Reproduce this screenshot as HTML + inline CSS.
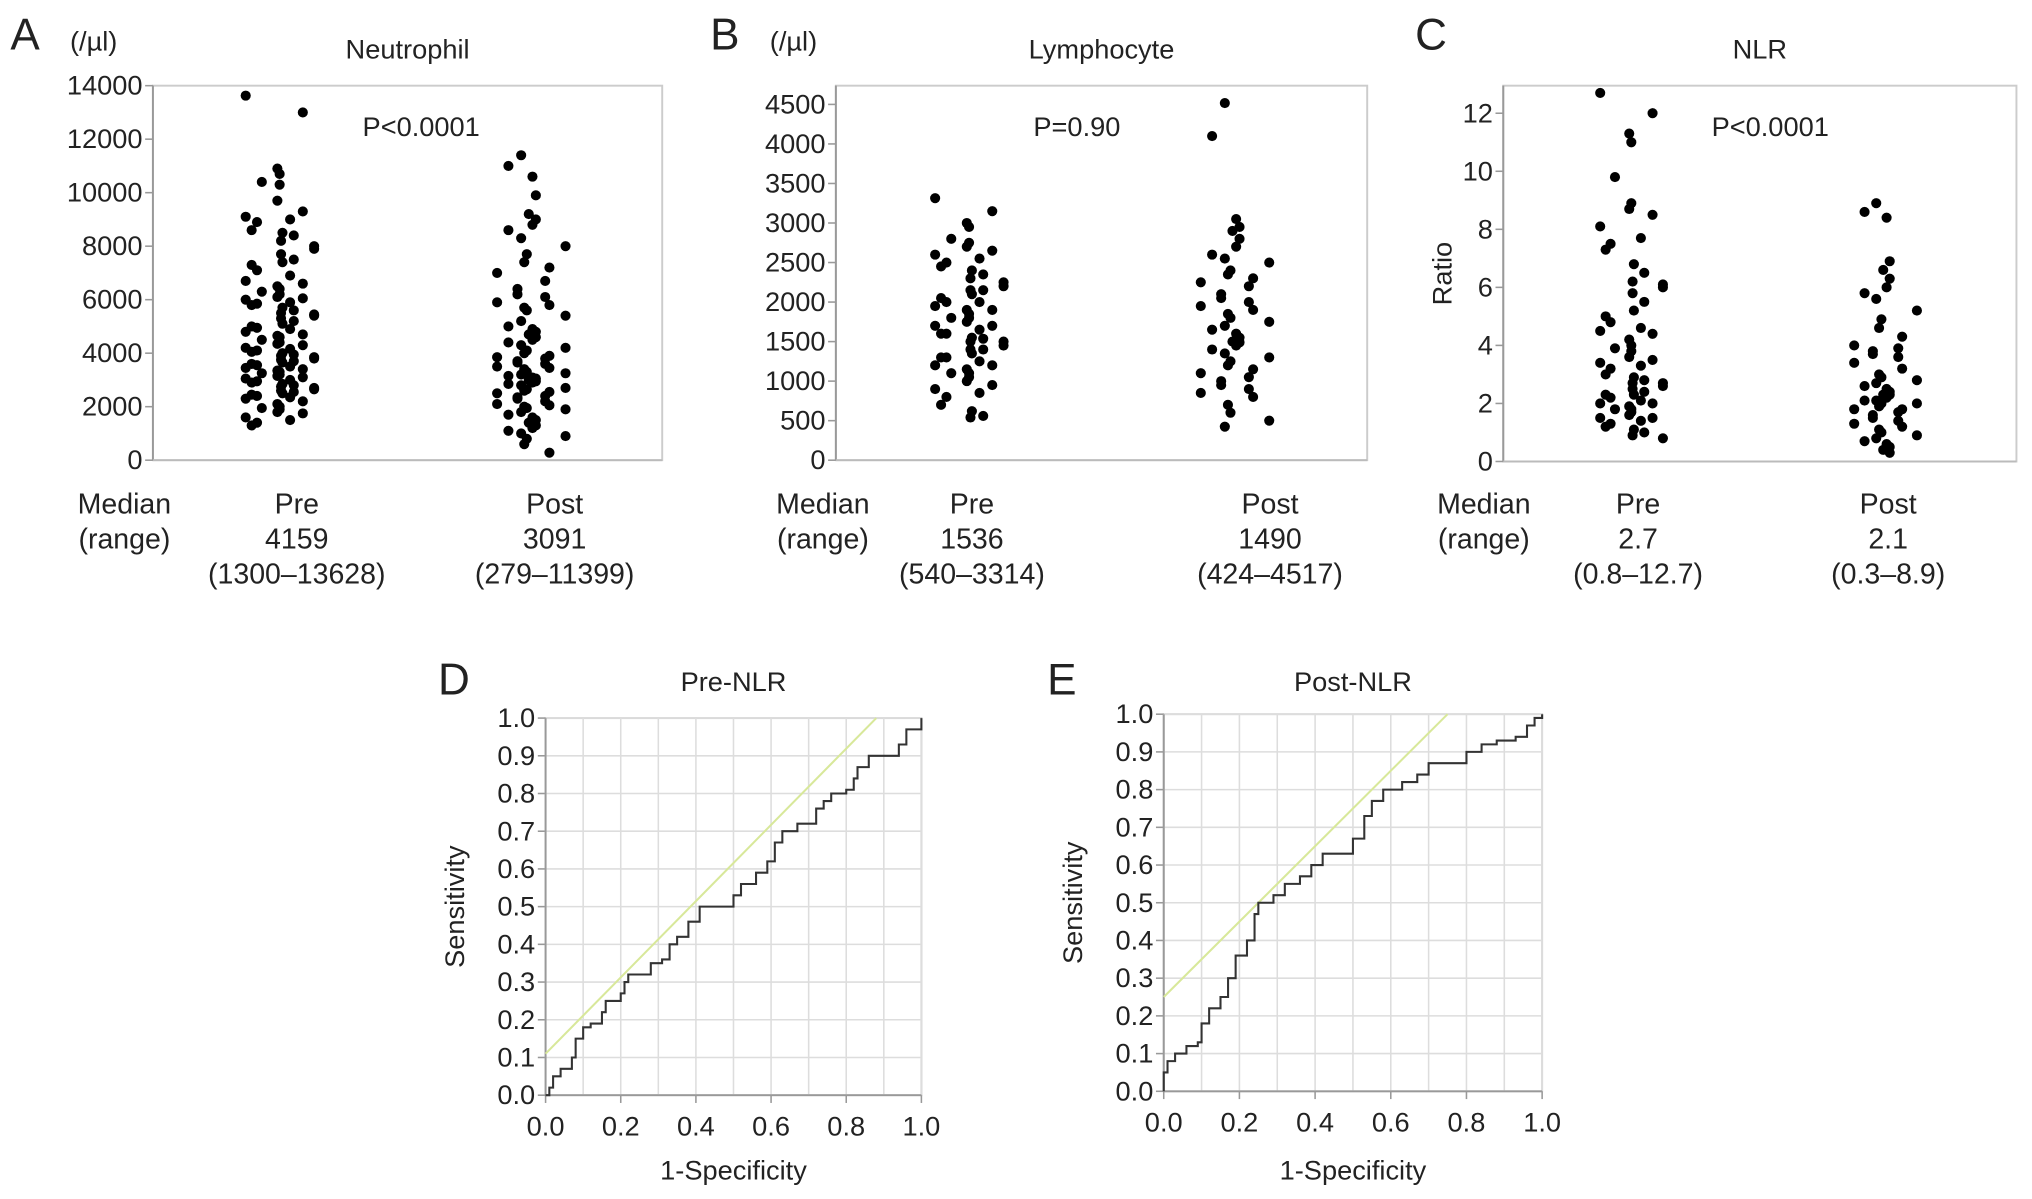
<!DOCTYPE html>
<html><head><meta charset="utf-8"><style>
html,body{margin:0;padding:0;background:#fff}
svg{display:block}
text{font-family:"Liberation Sans",Arial,sans-serif;fill:#222}
</style></head><body>
<svg id="fig" width="2032" height="1199" viewBox="0 0 1568 925"></svg>
<script>
const aPre=[13628,13000,10900,10700,10400,10300,9700,9300,9100,9000,8900,8600,8500,8400,8200,8000,7900,7700,7500,7400,7300,7100,6900,6700,6600,6500,6400,6300,6200,6100,6050,6000,5900,5850,5800,5700,5600,5500,5450,5400,5300,5200,5100,5000,4950,4900,4800,4700,4650,4600,4500,4400,4350,4300,4200,4159,4100,4050,4000,3950,3900,3850,3800,3750,3700,3650,3600,3550,3500,3450,3400,3350,3300,3250,3200,3150,3100,3050,3000,2950,2900,2850,2800,2750,2700,2650,2600,2550,2500,2450,2400,2350,2300,2200,2100,2000,1950,1900,1800,1750,1600,1500,1400,1300];
const aPost=[11399,11000,10600,9900,9200,9000,8800,8600,8300,8000,7700,7400,7200,7000,6700,6400,6200,6100,5900,5800,5700,5600,5400,5200,5000,4900,4800,4700,4600,4500,4400,4300,4200,4100,4000,3900,3850,3800,3700,3650,3600,3500,3450,3400,3300,3250,3200,3150,3091,3050,3000,2950,2900,2850,2800,2700,2650,2600,2550,2500,2400,2350,2300,2200,2100,2050,2000,1950,1900,1800,1700,1600,1500,1400,1300,1200,1100,1000,900,800,600,279];
const bPre=[3314,3150,3000,2950,2800,2750,2700,2650,2600,2550,2500,2450,2400,2350,2300,2250,2200,2150,2150,2100,2050,2000,2000,1950,1900,1900,1850,1800,1800,1750,1700,1700,1650,1600,1600,1550,1536,1500,1500,1450,1400,1400,1350,1300,1300,1250,1200,1200,1150,1100,1100,1050,1000,950,900,850,800,700,620,560,540];
const bPost=[4517,4100,3050,2950,2900,2800,2700,2600,2550,2500,2400,2350,2300,2250,2200,2100,2050,2000,1950,1900,1850,1800,1750,1700,1650,1600,1550,1500,1490,1450,1400,1350,1300,1250,1200,1150,1100,1050,1000,950,900,850,800,700,600,500,424];
const cPre=[12.7,12.0,11.3,11.0,9.8,8.9,8.7,8.5,8.1,7.7,7.5,7.3,6.8,6.5,6.2,6.1,6.0,5.8,5.5,5.2,5.0,4.8,4.6,4.5,4.4,4.2,4.0,3.9,3.8,3.6,3.5,3.4,3.3,3.2,3.0,2.9,2.8,2.7,2.7,2.6,2.5,2.4,2.3,2.3,2.2,2.1,2.0,2.0,1.9,1.8,1.8,1.7,1.6,1.5,1.5,1.4,1.3,1.2,1.1,1.0,0.9,0.8];
const cPost=[8.9,8.6,8.4,6.9,6.6,6.3,6.0,5.8,5.6,5.2,4.9,4.6,4.3,4.0,3.9,3.8,3.7,3.6,3.4,3.2,3.0,2.9,2.8,2.7,2.6,2.5,2.4,2.3,2.3,2.2,2.1,2.1,2.0,2.0,1.9,1.8,1.8,1.7,1.6,1.5,1.4,1.3,1.2,1.1,1.0,0.9,0.8,0.7,0.6,0.5,0.4,0.3];
const aTicks=[0,2000,4000,6000,8000,10000,12000,14000];
const bTicks=[0,500,1000,1500,2000,2500,3000,3500,4000,4500];
const cTicks=[0,2,4,6,8,10,12];
const rocTicks=[0,0.1,0.2,0.3,0.4,0.5,0.6,0.7,0.8,0.9,1.0];
const rocXTicks=[0,0.2,0.4,0.6,0.8,1.0];
const dFpr=[0,0.01,0.02,0.04,0.04,0.07,0.07,0.08,0.1,0.12,0.14,0.15,0.16,0.18,0.2,0.21,0.22,0.26,0.28,0.31,0.33,0.35,0.38,0.41,0.48,0.5,0.52,0.56,0.59,0.61,0.63,0.67,0.7,0.72,0.74,0.76,0.8,0.82,0.83,0.85,0.86,0.92,0.94,0.96,0.99,1];
const dTpr=[0,0.02,0.05,0.05,0.07,0.07,0.1,0.15,0.18,0.19,0.19,0.22,0.25,0.25,0.27,0.3,0.32,0.32,0.35,0.36,0.4,0.42,0.46,0.5,0.5,0.53,0.56,0.59,0.62,0.67,0.7,0.72,0.72,0.76,0.78,0.8,0.81,0.84,0.87,0.87,0.9,0.9,0.93,0.97,0.97,1];
const eFpr=[0,0,0.01,0.03,0.06,0.09,0.1,0.12,0.15,0.17,0.19,0.22,0.24,0.25,0.29,0.32,0.36,0.39,0.42,0.48,0.5,0.53,0.55,0.58,0.63,0.67,0.7,0.77,0.8,0.84,0.88,0.93,0.96,0.98,1];
const eTpr=[0,0.05,0.08,0.1,0.12,0.13,0.18,0.22,0.25,0.3,0.36,0.4,0.47,0.5,0.52,0.55,0.57,0.6,0.63,0.63,0.67,0.73,0.77,0.8,0.82,0.84,0.87,0.87,0.9,0.92,0.93,0.94,0.97,0.99,1];
const dRef=[0.11,0.88];
const eRef=[0.25,0.75];

const NS='http://www.w3.org/2000/svg';
const svg=document.getElementById('fig');
function el(tag,attrs,parent){const e=document.createElementNS(NS,tag);for(const k in attrs)e.setAttribute(k,attrs[k]);(parent||svg).appendChild(e);return e;}
function txt(x,y,s,size,anchor,parent){const t=el('text',{x:x,y:y,'font-size':size,'text-anchor':anchor||'middle'},parent);t.textContent=s;return t;}

function scatterPanel(cfg){
  const g=el('g',{});
  
  
  const {x0,x1,y0,y1,max}=cfg;
  const ys=v=>y0-(v/max)*(y0-y1);
  const fr=el('rect',{x:x0,y:y1,width:x1-x0,height:y0-y1,fill:'none',stroke:'#ccc','stroke-width':1.5},g);
  
  
  el('line',{x1:x0,y1:y1,x2:x0,y2:y0,stroke:'#999','stroke-width':1.5},g);
  el('line',{x1:x0,y1:y0,x2:x1,y2:y0,stroke:'#bbb','stroke-width':1.5},g);
  cfg.ticks.forEach(t=>{
    const y=ys(t);
    el('line',{x1:x0-6,y1:y,x2:x0,y2:y,stroke:'#999','stroke-width':1.2},g);
    const l=txt(x0-8,y+7,String(t),21,'end',g);
    
    
  });
  const xs=[cfg.preX,cfg.postX];
  [cfg.pre,cfg.post].forEach((arr,gi)=>{
    arr.forEach((v,i)=>{
      const k=((i*i*7+i*13+gi*5)%23)-11;
      const dx=cfg.spread*k*Math.abs(k)/11;
      const c=el('circle',{cx:xs[gi]+dx,cy:ys(v),r:3.9,fill:'#000'},g);
      
      
    });
  });
  const t=txt((x0+x1)/2,45,cfg.title,21,'middle',g);
  
  
  const p=txt(cfg.pX,105,cfg.p,21,'middle',g);
  
  
  const L=txt(cfg.letterX,38,cfg.letter,34,'start',g);
  
  
  if(cfg.unit){const u=txt(cfg.letterX+46,39,'(/µl)',21,'start',g);
    
    }
  if(cfg.ylab){const yl=txt(0,0,cfg.ylab,21,'middle',g);yl.setAttribute('transform','translate('+(x0-40)+','+((y0+y1)/2)+') rotate(-90)');
    
    }
  const m1=txt(cfg.medX,396,'Median',22,'middle',g);
  const m2=txt(cfg.medX,423,'(range)',22,'middle',g);
  [[cfg.preLX,'Pre',cfg.preMed,cfg.preRange],[cfg.postLX,'Post',cfg.postMed,cfg.postRange]].forEach(a=>{
    const c1=txt(a[0],396,a[1],22,'middle',g);
    const c2=txt(a[0],423,a[2],22,'middle',g);
    const c3=txt(a[0],450,a[3],22,'middle',g);
  });
}
scatterPanel({name:'neutrophil-panel',x0:118,x1:511,y0:355,y1:66,max:14000,ticks:aTicks,pre:aPre,post:aPost,preX:216,postX:410,spread:2.4,title:'Neutrophil',p:'P<0.0001',pX:325,letter:'A',letterX:8,unit:true,medX:96,preLX:229,postLX:428,preMed:'4159',postMed:'3091',preRange:'(1300–13628)',postRange:'(279–11399)'});
scatterPanel({name:'lymphocyte-panel',x0:645,x1:1055,y0:355,y1:66,max:4737,ticks:bTicks,pre:bPre,post:bPost,preX:748,postX:953,spread:2.4,title:'Lymphocyte',p:'P=0.90',pX:831,letter:'B',letterX:548,unit:true,medX:635,preLX:750,postLX:980,preMed:'1536',postMed:'1490',preRange:'(540–3314)',postRange:'(424–4517)'});
scatterPanel({name:'nlr-panel',x0:1160,x1:1556,y0:356,y1:66,max:12.95,ticks:cTicks,pre:cPre,post:cPost,preX:1259,postX:1455,spread:2.2,title:'NLR',p:'P<0.0001',pX:1366,letter:'C',letterX:1092,unit:false,ylab:'Ratio',medX:1145,preLX:1264,postLX:1457,preMed:'2.7',postMed:'2.1',preRange:'(0.8–12.7)',postRange:'(0.3–8.9)'});

function rocPanel(cfg){
  const g=el('g',{});
  
  
  const {x0,x1,y0,y1}=cfg;
  const xs=v=>x0+v*(x1-x0), ys=v=>y0-v*(y0-y1);
  el('rect',{x:x0,y:y1,width:x1-x0,height:y0-y1,fill:'none',stroke:'#ccc','stroke-width':1.5},g);
  rocTicks.forEach(t=>{
    el('line',{x1:x0,y1:ys(t),x2:x1,y2:ys(t),stroke:'#ddd','stroke-width':1.2},g);
    el('line',{x1:x0-6,y1:ys(t),x2:x0,y2:ys(t),stroke:'#999','stroke-width':1.2},g);
    const l=txt(x0-8,ys(t)+7,t.toFixed(1),21,'end',g);
    
    
  });
  rocXTicks.forEach(t=>{
    el('line',{x1:xs(t),y1:y1,x2:xs(t),y2:y0,stroke:'#ddd','stroke-width':1.2},g);
    el('line',{x1:xs(t),y1:y0,x2:xs(t),y2:y0+6,stroke:'#999','stroke-width':1.2},g);
    const l=txt(xs(t),y0+31,t.toFixed(1),21,'middle',g);
    
    
  });
  for(let t=0.1;t<1;t+=0.2){el('line',{x1:xs(t),y1:y1,x2:xs(t),y2:y0,stroke:'#ddd','stroke-width':1.2},g);}
  el('line',{x1:x0,y1:y1,x2:x0,y2:y0,stroke:'#999','stroke-width':1.5},g);
  el('line',{x1:x0,y1:y0,x2:x1,y2:y0,stroke:'#999','stroke-width':1.5},g);
  const r=el('line',{x1:xs(0),y1:ys(cfg.ref[0]),x2:xs(cfg.ref[1]),y2:ys(1),stroke:'#d8e89a','stroke-width':1.6},g);
  
  
  let d='M'+xs(cfg.fpr[0])+' '+ys(cfg.tpr[0]);
  for(let i=1;i<cfg.fpr.length;i++){d+=' L'+xs(cfg.fpr[i])+' '+ys(cfg.tpr[i-1])+' L'+xs(cfg.fpr[i])+' '+ys(cfg.tpr[i]);}
  const p=el('path',{d:d,fill:'none',stroke:'#333','stroke-width':1.6},g);
  
  
  const t=txt((x0+x1)/2,533,cfg.title,21,'middle',g);
  const L=txt(cfg.letterX,536,cfg.letter,34,'start',g);
  const xl=txt((x0+x1)/2,910,'1-Specificity',21,'middle',g);
  const yl=txt(0,0,'Sensitivity',21,'middle',g);yl.setAttribute('transform','translate('+(x0-63)+','+((y0+y1)/2)+') rotate(-90)');
  
}
rocPanel({name:'pre-nlr-roc',x0:421,x1:711,y0:845,y1:554,fpr:dFpr,tpr:dTpr,ref:dRef,title:'Pre-NLR',letter:'D',letterX:338});
rocPanel({name:'post-nlr-roc',x0:898,x1:1190,y0:842,y1:551,fpr:eFpr,tpr:eTpr,ref:eRef,title:'Post-NLR',letter:'E',letterX:808});
</script>
</body></html>
